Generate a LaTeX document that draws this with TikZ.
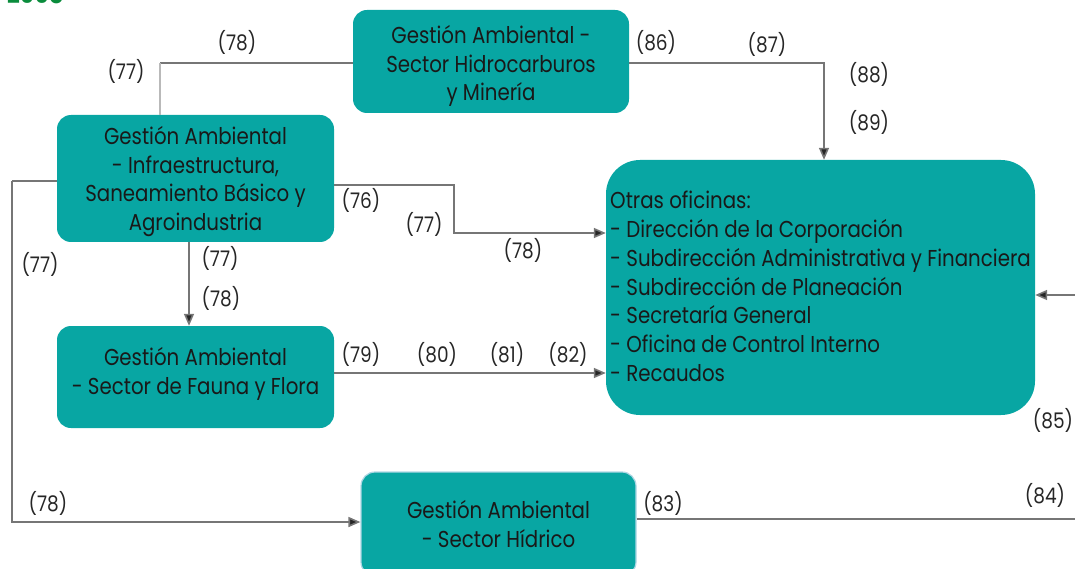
\documentclass[tikz,border=0pt]{standalone}
\usepackage{fontspec}
\setmainfont[FakeStretch=0.86]{Poppins}
\usetikzlibrary{arrows.meta}
\definecolor{teal1}{RGB}{8,166,163}
\definecolor{lgray}{RGB}{118,118,118}
\definecolor{pgray}{RGB}{185,185,185}
\definecolor{gnum}{RGB}{10,140,60}
\begin{document}
\begin{tikzpicture}[x=1pt,y=-1pt,
  box/.style={fill=teal1, rounded corners=14pt, inner sep=0pt},
  btext/.style={inner sep=0pt, align=center, font=\fontsize{23}{28.7}\selectfont, text=black!90},
  lbl/.style={inner sep=0pt, font=\fontsize{21.5}{24}\selectfont, text=black!85},
  conn/.style={draw=lgray, line width=1.6pt},
  arr/.style={conn, -{Triangle[length=12pt,width=10pt,fill=black!85]}}
]
\useasboundingbox (0,0) rectangle (1075,569);
% title (cut off at the top edge)
\node[inner sep=0, anchor=base west, text=gnum, font=\bfseries\fontsize{26}{28}\selectfont] (yr) at (7,4) {2008};
% boxes
\node[box, minimum width=276pt, minimum height=103pt] (A) at (491,61.5) {};
\node[btext] (At) at (491,66) {Gestión Ambiental -\\Sector Hidrocarburos\\y Minería};
\node[box, minimum width=277pt, minimum height=127pt] (B) at (195.5,178.5) {};
\node[btext] (Bt) at (195.5,181.5) {Gestión Ambiental\\- Infraestructura,\\Saneamiento Básico y\\Agroindustria};
\node[box, minimum width=277pt, minimum height=102pt] (C) at (195.5,377) {};
\node[btext] (Ct) at (195.5,374) {Gestión Ambiental\\- Sector de Fauna y Flora};
\node[box, rounded corners=34pt, minimum width=429pt, minimum height=255pt] (D) at (820.5,287.5) {};
\node[inner sep=0pt, anchor=north west, align=left, font=\fontsize{23}{28.8}\selectfont, text=black!90] (Dt) at (610,191) {Otras oficinas:\\- Dirección de la Corporación\\- Subdirección Administrativa y Financiera\\- Subdirección de Planeación\\- Secretaría General\\- Oficina de Control Interno\\- Recaudos};
\node[box, draw={rgb,255:red,175;green,215;blue,228}, line width=1.2pt, minimum width=275pt, minimum height=104pt] (E) at (498.5,524) {};
\node[btext] (Et) at (498.5,524) {Gestión Ambiental\\- Sector Hídrico};
% connectors
\coordinate (ab) at (160,63);
\draw[conn] (A.west |- ab) -- (ab);
\draw[draw=pgray, line width=1.6pt] (ab) -- (ab |- B.north);
\draw[arr] (A.east |- ab) -| ([xshift=3.5pt]D.north);
\coordinate (bd) at (454,185);
\draw[arr] (B.east |- bd) -- (bd) |- (D.west |- 0,233);
\draw[arr] ([xshift=-6.5pt]B.south) -- ([xshift=-6.5pt]C.north);
\coordinate (be) at (12,181);
\draw[conn] (B.west |- be) -- (be);
\draw[arr] (be) |- (E.west |- 0,522);
\draw[arr] (C.east |- 0,373) -- (D.west |- 0,373);
\coordinate (er) at (1090,519);
\draw[arr] (E.east |- er) -- (er) |- (D.east |- 0,295);
% labels
\node[lbl] (l1) at (237,42) {(78)};
\node[lbl] (l2) at (126,71) {(77)};
\node[lbl] (l3) at (656,42) {(86)};
\node[lbl] (l4) at (767,44) {(87)};
\node[lbl] (l5) at (869,74) {(88)};
\node[lbl] (l6) at (869,122) {(89)};
\node[lbl] (l7) at (361,200) {(76)};
\node[lbl] (l8) at (424,224) {(77)};
\node[lbl] (l9) at (523,250) {(78)};
\node[lbl] (l10) at (220,258) {(77)};
\node[lbl] (l11) at (221,298) {(78)};
\node[lbl] (l12) at (40,264) {(77)};
\node[lbl] (l13) at (361,354) {(79)};
\node[lbl] (l14) at (437,354) {(80)};
\node[lbl] (l15) at (507,354) {(81)};
\node[lbl] (l16) at (568,354) {(82)};
\node[lbl] (l17) at (48,503) {(78)};
\node[lbl] (l18) at (663,503) {(83)};
\node[lbl] (l19) at (1045,495) {(84)};
\node[lbl] (l20) at (1053,420) {(85)};
\end{tikzpicture}
\end{document}
